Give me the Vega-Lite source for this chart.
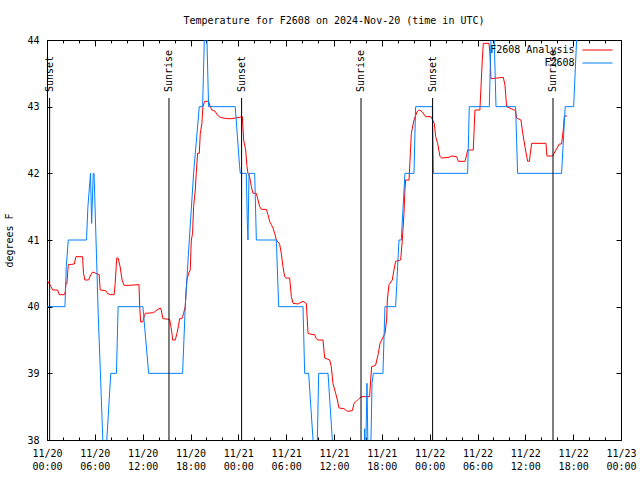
{
  "$schema": "https://vega.github.io/schema/vega-lite/v6.json",
  "width": 574,
  "height": 400,
  "autosize": {"type": "none"},
  "padding": {"left": 47, "top": 40, "right": 19, "bottom": 40},
  "background": "white",
  "title": {"text": "Temperature for F2608 on 2024-Nov-20 (time in UTC)", "font": "DejaVu Sans Mono", "fontSize": 10, "fontWeight": "normal", "color": "black", "anchor": "middle", "baseline": "bottom", "offset": -1},
  "datasets": {
    "temps": [
      {"series": "F2608 Analysis", "hour": 0, "temp": 40.4},
      {"series": "F2608 Analysis", "hour": 0.5, "temp": 40.3},
      {"series": "F2608 Analysis", "hour": 0.71, "temp": 40.25},
      {"series": "F2608 Analysis", "hour": 1.33, "temp": 40.25},
      {"series": "F2608 Analysis", "hour": 1.54, "temp": 40.18},
      {"series": "F2608 Analysis", "hour": 2.17, "temp": 40.18},
      {"series": "F2608 Analysis", "hour": 2.29, "temp": 40.22},
      {"series": "F2608 Analysis", "hour": 2.38, "temp": 40.35},
      {"series": "F2608 Analysis", "hour": 2.5, "temp": 40.35},
      {"series": "F2608 Analysis", "hour": 2.67, "temp": 40.63},
      {"series": "F2608 Analysis", "hour": 3.42, "temp": 40.64},
      {"series": "F2608 Analysis", "hour": 3.63, "temp": 40.75},
      {"series": "F2608 Analysis", "hour": 4.46, "temp": 40.75},
      {"series": "F2608 Analysis", "hour": 4.58, "temp": 40.5},
      {"series": "F2608 Analysis", "hour": 4.75, "temp": 40.4},
      {"series": "F2608 Analysis", "hour": 5.21, "temp": 40.4},
      {"series": "F2608 Analysis", "hour": 5.5, "temp": 40.48},
      {"series": "F2608 Analysis", "hour": 5.71, "temp": 40.52},
      {"series": "F2608 Analysis", "hour": 6.13, "temp": 40.5},
      {"series": "F2608 Analysis", "hour": 6.54, "temp": 40.48},
      {"series": "F2608 Analysis", "hour": 6.67, "temp": 40.25},
      {"series": "F2608 Analysis", "hour": 7.38, "temp": 40.24},
      {"series": "F2608 Analysis", "hour": 7.58, "temp": 40.2},
      {"series": "F2608 Analysis", "hour": 7.92, "temp": 40.18},
      {"series": "F2608 Analysis", "hour": 8.42, "temp": 40.18},
      {"series": "F2608 Analysis", "hour": 8.54, "temp": 40.33},
      {"series": "F2608 Analysis", "hour": 8.75, "temp": 40.73},
      {"series": "F2608 Analysis", "hour": 8.92, "temp": 40.73},
      {"series": "F2608 Analysis", "hour": 9.17, "temp": 40.6},
      {"series": "F2608 Analysis", "hour": 9.42, "temp": 40.4},
      {"series": "F2608 Analysis", "hour": 9.67, "temp": 40.32},
      {"series": "F2608 Analysis", "hour": 10.29, "temp": 40.32},
      {"series": "F2608 Analysis", "hour": 11.54, "temp": 40.33},
      {"series": "F2608 Analysis", "hour": 11.63, "temp": 40.0},
      {"series": "F2608 Analysis", "hour": 11.75, "temp": 39.77},
      {"series": "F2608 Analysis", "hour": 12.0, "temp": 39.77},
      {"series": "F2608 Analysis", "hour": 12.2, "temp": 39.85},
      {"series": "F2608 Analysis", "hour": 12.33, "temp": 39.9},
      {"series": "F2608 Analysis", "hour": 13.37, "temp": 39.91},
      {"series": "F2608 Analysis", "hour": 13.79, "temp": 39.95},
      {"series": "F2608 Analysis", "hour": 14.21, "temp": 39.98},
      {"series": "F2608 Analysis", "hour": 14.33, "temp": 39.95},
      {"series": "F2608 Analysis", "hour": 14.54, "temp": 39.82},
      {"series": "F2608 Analysis", "hour": 15.38, "temp": 39.81},
      {"series": "F2608 Analysis", "hour": 15.55, "temp": 39.7},
      {"series": "F2608 Analysis", "hour": 15.67, "temp": 39.6},
      {"series": "F2608 Analysis", "hour": 15.76, "temp": 39.5},
      {"series": "F2608 Analysis", "hour": 16.09, "temp": 39.5},
      {"series": "F2608 Analysis", "hour": 16.3, "temp": 39.6},
      {"series": "F2608 Analysis", "hour": 16.51, "temp": 39.72},
      {"series": "F2608 Analysis", "hour": 16.63, "temp": 39.82},
      {"series": "F2608 Analysis", "hour": 16.93, "temp": 39.82},
      {"series": "F2608 Analysis", "hour": 17.13, "temp": 39.9},
      {"series": "F2608 Analysis", "hour": 17.34, "temp": 40.0},
      {"series": "F2608 Analysis", "hour": 17.43, "temp": 40.2},
      {"series": "F2608 Analysis", "hour": 17.55, "temp": 40.4},
      {"series": "F2608 Analysis", "hour": 17.76, "temp": 40.5},
      {"series": "F2608 Analysis", "hour": 17.97, "temp": 40.55},
      {"series": "F2608 Analysis", "hour": 18.1, "temp": 41.0},
      {"series": "F2608 Analysis", "hour": 18.26, "temp": 41.1},
      {"series": "F2608 Analysis", "hour": 18.39, "temp": 41.5},
      {"series": "F2608 Analysis", "hour": 18.6, "temp": 41.75},
      {"series": "F2608 Analysis", "hour": 18.72, "temp": 42.0},
      {"series": "F2608 Analysis", "hour": 18.89, "temp": 42.3},
      {"series": "F2608 Analysis", "hour": 19.1, "temp": 42.3},
      {"series": "F2608 Analysis", "hour": 19.23, "temp": 42.6},
      {"series": "F2608 Analysis", "hour": 19.43, "temp": 42.75},
      {"series": "F2608 Analysis", "hour": 19.56, "temp": 43.0},
      {"series": "F2608 Analysis", "hour": 19.77, "temp": 43.08},
      {"series": "F2608 Analysis", "hour": 20.27, "temp": 43.08},
      {"series": "F2608 Analysis", "hour": 20.48, "temp": 43.0},
      {"series": "F2608 Analysis", "hour": 20.69, "temp": 42.95},
      {"series": "F2608 Analysis", "hour": 21.11, "temp": 42.93},
      {"series": "F2608 Analysis", "hour": 21.32, "temp": 42.88},
      {"series": "F2608 Analysis", "hour": 21.73, "temp": 42.84},
      {"series": "F2608 Analysis", "hour": 22.57, "temp": 42.82},
      {"series": "F2608 Analysis", "hour": 23.2, "temp": 42.82},
      {"series": "F2608 Analysis", "hour": 23.61, "temp": 42.83},
      {"series": "F2608 Analysis", "hour": 24.12, "temp": 42.84},
      {"series": "F2608 Analysis", "hour": 24.38, "temp": 42.85},
      {"series": "F2608 Analysis", "hour": 24.5, "temp": 42.85},
      {"series": "F2608 Analysis", "hour": 24.67, "temp": 42.5},
      {"series": "F2608 Analysis", "hour": 24.92, "temp": 42.35},
      {"series": "F2608 Analysis", "hour": 25.09, "temp": 42.1},
      {"series": "F2608 Analysis", "hour": 25.21, "temp": 42.0},
      {"series": "F2608 Analysis", "hour": 25.42, "temp": 41.95},
      {"series": "F2608 Analysis", "hour": 25.63, "temp": 41.8},
      {"series": "F2608 Analysis", "hour": 25.84, "temp": 41.7},
      {"series": "F2608 Analysis", "hour": 26.26, "temp": 41.7},
      {"series": "F2608 Analysis", "hour": 26.47, "temp": 41.6},
      {"series": "F2608 Analysis", "hour": 26.68, "temp": 41.5},
      {"series": "F2608 Analysis", "hour": 26.89, "temp": 41.46},
      {"series": "F2608 Analysis", "hour": 27.51, "temp": 41.46},
      {"series": "F2608 Analysis", "hour": 27.72, "temp": 41.38},
      {"series": "F2608 Analysis", "hour": 27.93, "temp": 41.28},
      {"series": "F2608 Analysis", "hour": 28.14, "temp": 41.23},
      {"series": "F2608 Analysis", "hour": 28.35, "temp": 41.18},
      {"series": "F2608 Analysis", "hour": 28.56, "temp": 41.1},
      {"series": "F2608 Analysis", "hour": 28.77, "temp": 41.0},
      {"series": "F2608 Analysis", "hour": 29.18, "temp": 40.94},
      {"series": "F2608 Analysis", "hour": 29.39, "temp": 40.8},
      {"series": "F2608 Analysis", "hour": 29.6, "temp": 40.6},
      {"series": "F2608 Analysis", "hour": 29.81, "temp": 40.45},
      {"series": "F2608 Analysis", "hour": 30.02, "temp": 40.43},
      {"series": "F2608 Analysis", "hour": 30.44, "temp": 40.43},
      {"series": "F2608 Analysis", "hour": 30.65, "temp": 40.15},
      {"series": "F2608 Analysis", "hour": 30.86, "temp": 40.05},
      {"series": "F2608 Analysis", "hour": 31.48, "temp": 40.04},
      {"series": "F2608 Analysis", "hour": 32.11, "temp": 40.08},
      {"series": "F2608 Analysis", "hour": 32.53, "temp": 40.05},
      {"series": "F2608 Analysis", "hour": 32.74, "temp": 39.6},
      {"series": "F2608 Analysis", "hour": 32.95, "temp": 39.59},
      {"series": "F2608 Analysis", "hour": 33.57, "temp": 39.58},
      {"series": "F2608 Analysis", "hour": 33.78, "temp": 39.52},
      {"series": "F2608 Analysis", "hour": 33.99, "temp": 39.5},
      {"series": "F2608 Analysis", "hour": 34.62, "temp": 39.5},
      {"series": "F2608 Analysis", "hour": 34.83, "temp": 39.23},
      {"series": "F2608 Analysis", "hour": 35.46, "temp": 39.2},
      {"series": "F2608 Analysis", "hour": 35.66, "temp": 39.1},
      {"series": "F2608 Analysis", "hour": 35.87, "temp": 38.85},
      {"series": "F2608 Analysis", "hour": 36.21, "temp": 38.7},
      {"series": "F2608 Analysis", "hour": 36.42, "temp": 38.6},
      {"series": "F2608 Analysis", "hour": 36.63, "temp": 38.48},
      {"series": "F2608 Analysis", "hour": 37.25, "temp": 38.47},
      {"series": "F2608 Analysis", "hour": 37.67, "temp": 38.43},
      {"series": "F2608 Analysis", "hour": 38.3, "temp": 38.44},
      {"series": "F2608 Analysis", "hour": 38.51, "temp": 38.55},
      {"series": "F2608 Analysis", "hour": 38.8, "temp": 38.58},
      {"series": "F2608 Analysis", "hour": 39.13, "temp": 38.62},
      {"series": "F2608 Analysis", "hour": 39.47, "temp": 38.65},
      {"series": "F2608 Analysis", "hour": 40.47, "temp": 38.65},
      {"series": "F2608 Analysis", "hour": 40.6, "temp": 38.9},
      {"series": "F2608 Analysis", "hour": 40.72, "temp": 39.1},
      {"series": "F2608 Analysis", "hour": 41.22, "temp": 39.12},
      {"series": "F2608 Analysis", "hour": 41.56, "temp": 39.3},
      {"series": "F2608 Analysis", "hour": 41.77, "temp": 39.45},
      {"series": "F2608 Analysis", "hour": 42.4, "temp": 39.6},
      {"series": "F2608 Analysis", "hour": 42.6, "temp": 39.8},
      {"series": "F2608 Analysis", "hour": 42.69, "temp": 40.1},
      {"series": "F2608 Analysis", "hour": 42.9, "temp": 40.33},
      {"series": "F2608 Analysis", "hour": 43.31, "temp": 40.4},
      {"series": "F2608 Analysis", "hour": 43.52, "temp": 40.55},
      {"series": "F2608 Analysis", "hour": 43.73, "temp": 40.68},
      {"series": "F2608 Analysis", "hour": 44.36, "temp": 40.7},
      {"series": "F2608 Analysis", "hour": 44.57, "temp": 41.0},
      {"series": "F2608 Analysis", "hour": 44.78, "temp": 41.4},
      {"series": "F2608 Analysis", "hour": 44.9, "temp": 41.75},
      {"series": "F2608 Analysis", "hour": 44.99, "temp": 41.9},
      {"series": "F2608 Analysis", "hour": 45.41, "temp": 41.9},
      {"series": "F2608 Analysis", "hour": 45.7, "temp": 42.6},
      {"series": "F2608 Analysis", "hour": 46.03, "temp": 42.8},
      {"series": "F2608 Analysis", "hour": 46.45, "temp": 42.93},
      {"series": "F2608 Analysis", "hour": 46.74, "temp": 42.95},
      {"series": "F2608 Analysis", "hour": 47.08, "temp": 42.92},
      {"series": "F2608 Analysis", "hour": 47.5, "temp": 42.85},
      {"series": "F2608 Analysis", "hour": 48.16, "temp": 42.85},
      {"series": "F2608 Analysis", "hour": 48.58, "temp": 42.75},
      {"series": "F2608 Analysis", "hour": 48.75, "temp": 42.55},
      {"series": "F2608 Analysis", "hour": 49.0, "temp": 42.45},
      {"series": "F2608 Analysis", "hour": 49.3, "temp": 42.25},
      {"series": "F2608 Analysis", "hour": 49.5, "temp": 42.23},
      {"series": "F2608 Analysis", "hour": 50.42, "temp": 42.24},
      {"series": "F2608 Analysis", "hour": 50.76, "temp": 42.26},
      {"series": "F2608 Analysis", "hour": 51.38, "temp": 42.25},
      {"series": "F2608 Analysis", "hour": 51.6, "temp": 42.18},
      {"series": "F2608 Analysis", "hour": 52.43, "temp": 42.18},
      {"series": "F2608 Analysis", "hour": 52.64, "temp": 42.28},
      {"series": "F2608 Analysis", "hour": 52.76, "temp": 42.35},
      {"series": "F2608 Analysis", "hour": 53.47, "temp": 42.35},
      {"series": "F2608 Analysis", "hour": 53.68, "temp": 42.95},
      {"series": "F2608 Analysis", "hour": 54.3, "temp": 42.95},
      {"series": "F2608 Analysis", "hour": 54.6, "temp": 43.7},
      {"series": "F2608 Analysis", "hour": 54.73, "temp": 43.95},
      {"series": "F2608 Analysis", "hour": 55.44, "temp": 43.95},
      {"series": "F2608 Analysis", "hour": 55.56, "temp": 43.8},
      {"series": "F2608 Analysis", "hour": 55.69, "temp": 43.42},
      {"series": "F2608 Analysis", "hour": 57.24, "temp": 43.44},
      {"series": "F2608 Analysis", "hour": 57.45, "temp": 43.32},
      {"series": "F2608 Analysis", "hour": 57.65, "temp": 43.0},
      {"series": "F2608 Analysis", "hour": 58.78, "temp": 42.94},
      {"series": "F2608 Analysis", "hour": 58.91, "temp": 42.83},
      {"series": "F2608 Analysis", "hour": 59.45, "temp": 42.8},
      {"series": "F2608 Analysis", "hour": 59.62, "temp": 42.65},
      {"series": "F2608 Analysis", "hour": 59.95, "temp": 42.4},
      {"series": "F2608 Analysis", "hour": 60.29, "temp": 42.18},
      {"series": "F2608 Analysis", "hour": 60.5, "temp": 42.18},
      {"series": "F2608 Analysis", "hour": 60.79, "temp": 42.45},
      {"series": "F2608 Analysis", "hour": 62.59, "temp": 42.45},
      {"series": "F2608 Analysis", "hour": 62.71, "temp": 42.26},
      {"series": "F2608 Analysis", "hour": 63.42, "temp": 42.26},
      {"series": "F2608 Analysis", "hour": 63.84, "temp": 42.35},
      {"series": "F2608 Analysis", "hour": 64.26, "temp": 42.44},
      {"series": "F2608 Analysis", "hour": 64.55, "temp": 42.44},
      {"series": "F2608 Analysis", "hour": 64.8, "temp": 42.7},
      {"series": "F2608 Analysis", "hour": 64.89, "temp": 42.86},
      {"series": "F2608 Analysis", "hour": 65.22, "temp": 42.86},
      {"series": "F2608", "hour": 0, "temp": 40},
      {"series": "F2608", "hour": 2.25, "temp": 40},
      {"series": "F2608", "hour": 2.42, "temp": 40.6},
      {"series": "F2608", "hour": 2.67, "temp": 41},
      {"series": "F2608", "hour": 4.96, "temp": 41},
      {"series": "F2608", "hour": 5.13, "temp": 41.5},
      {"series": "F2608", "hour": 5.46, "temp": 42},
      {"series": "F2608", "hour": 5.6, "temp": 41.25},
      {"series": "F2608", "hour": 5.8, "temp": 42},
      {"series": "F2608", "hour": 5.9, "temp": 42},
      {"series": "F2608", "hour": 6.2, "temp": 40.8},
      {"series": "F2608", "hour": 6.42, "temp": 39.9},
      {"series": "F2608", "hour": 6.7, "temp": 39},
      {"series": "F2608", "hour": 7.0, "temp": 38},
      {"series": "F2608", "hour": 7.15, "temp": 37.5},
      {"series": "F2608", "hour": 7.35, "temp": 37.5},
      {"series": "F2608", "hour": 7.5, "temp": 38},
      {"series": "F2608", "hour": 8.0, "temp": 39},
      {"series": "F2608", "hour": 8.71, "temp": 39},
      {"series": "F2608", "hour": 8.92, "temp": 40},
      {"series": "F2608", "hour": 12.03, "temp": 40},
      {"series": "F2608", "hour": 12.75, "temp": 39},
      {"series": "F2608", "hour": 17.01, "temp": 39},
      {"series": "F2608", "hour": 17.34, "temp": 40},
      {"series": "F2608", "hour": 17.85, "temp": 41},
      {"series": "F2608", "hour": 18.39, "temp": 42},
      {"series": "F2608", "hour": 19.1, "temp": 43},
      {"series": "F2608", "hour": 19.52, "temp": 43},
      {"series": "F2608", "hour": 19.73, "temp": 44},
      {"series": "F2608", "hour": 19.85, "temp": 44.4},
      {"series": "F2608", "hour": 19.95, "temp": 44.4},
      {"series": "F2608", "hour": 20.06, "temp": 44},
      {"series": "F2608", "hour": 20.27, "temp": 43},
      {"series": "F2608", "hour": 23.61, "temp": 43},
      {"series": "F2608", "hour": 24.16, "temp": 42.1},
      {"series": "F2608", "hour": 24.25, "temp": 42},
      {"series": "F2608", "hour": 25.0, "temp": 42},
      {"series": "F2608", "hour": 25.13, "temp": 41.25},
      {"series": "F2608", "hour": 25.21, "temp": 41},
      {"series": "F2608", "hour": 25.34, "temp": 42},
      {"series": "F2608", "hour": 26.05, "temp": 42},
      {"series": "F2608", "hour": 26.26, "temp": 41},
      {"series": "F2608", "hour": 28.77, "temp": 41},
      {"series": "F2608", "hour": 29.06, "temp": 40},
      {"series": "F2608", "hour": 32.11, "temp": 40},
      {"series": "F2608", "hour": 32.32, "temp": 39},
      {"series": "F2608", "hour": 32.82, "temp": 39},
      {"series": "F2608", "hour": 33.37, "temp": 38},
      {"series": "F2608", "hour": 33.57, "temp": 37.5},
      {"series": "F2608", "hour": 33.78, "temp": 37.5},
      {"series": "F2608", "hour": 33.91, "temp": 38},
      {"series": "F2608", "hour": 34.08, "temp": 39},
      {"series": "F2608", "hour": 35.25, "temp": 39},
      {"series": "F2608", "hour": 35.79, "temp": 38},
      {"series": "F2608", "hour": 36.08, "temp": 37.5},
      {"series": "F2608", "hour": 39.76, "temp": 37.5},
      {"series": "F2608", "hour": 39.84, "temp": 38.17},
      {"series": "F2608", "hour": 39.93, "temp": 37.5},
      {"series": "F2608", "hour": 40.14, "temp": 38.85},
      {"series": "F2608", "hour": 40.3, "temp": 37.5},
      {"series": "F2608", "hour": 40.56, "temp": 37.5},
      {"series": "F2608", "hour": 40.77, "temp": 38.85},
      {"series": "F2608", "hour": 40.93, "temp": 39},
      {"series": "F2608", "hour": 42.14, "temp": 39},
      {"series": "F2608", "hour": 42.39, "temp": 40},
      {"series": "F2608", "hour": 43.73, "temp": 40},
      {"series": "F2608", "hour": 44.15, "temp": 41},
      {"series": "F2608", "hour": 44.44, "temp": 41},
      {"series": "F2608", "hour": 44.9, "temp": 42},
      {"series": "F2608", "hour": 46.03, "temp": 42},
      {"series": "F2608", "hour": 46.24, "temp": 43},
      {"series": "F2608", "hour": 48.33, "temp": 43},
      {"series": "F2608", "hour": 48.46, "temp": 42},
      {"series": "F2608", "hour": 52.76, "temp": 42},
      {"series": "F2608", "hour": 52.97, "temp": 43},
      {"series": "F2608", "hour": 55.48, "temp": 43},
      {"series": "F2608", "hour": 55.69, "temp": 44},
      {"series": "F2608", "hour": 55.8, "temp": 44.4},
      {"series": "F2608", "hour": 55.95, "temp": 44.4},
      {"series": "F2608", "hour": 56.1, "temp": 44},
      {"series": "F2608", "hour": 56.32, "temp": 43},
      {"series": "F2608", "hour": 58.78, "temp": 43},
      {"series": "F2608", "hour": 59.03, "temp": 42},
      {"series": "F2608", "hour": 64.55, "temp": 42},
      {"series": "F2608", "hour": 65.0, "temp": 43},
      {"series": "F2608", "hour": 66.06, "temp": 43},
      {"series": "F2608", "hour": 66.43, "temp": 44},
      {"series": "F2608", "hour": 66.6, "temp": 44.4}
    ],
    "sun": [
      {"hour": 0.33, "event": "Sunset"},
      {"hour": 15.3, "event": "Sunrise"},
      {"hour": 24.41, "event": "Sunset"},
      {"hour": 39.39, "event": "Sunrise"},
      {"hour": 48.37, "event": "Sunset"},
      {"hour": 63.47, "event": "Sunrise"}
    ]
  },
  "resolve": {"axis": {"x": "independent", "y": "independent"}},
  "layer": [
    {
      "data": {"name": "temps"},
      "mark": {"type": "line", "strokeWidth": 1, "clip": true, "interpolate": "linear"},
      "encoding": {
        "x": {
          "field": "hour", "type": "quantitative",
          "scale": {"domain": [0, 72], "nice": false, "zero": false},
          "axis": {
            "orient": "bottom", "title": null, "grid": false, "domain": false,
            "values": [0,2,4,6,8,10,12,14,16,18,20,22,24,26,28,30,32,34,36,38,40,42,44,46,48,50,52,54,56,58,60,62,64,66,68,70,72],
            "labelExpr": "datum.value % 6 == 0 ? ['11/' + (20 + floor(datum.value / 24)), (datum.value % 24 < 10 ? '0' : '') + (datum.value % 24) + ':00'] : ''",
            "tickSize": {"condition": {"test": "datum.value % 6 == 0", "value": -6}, "value": -3},
            "tickColor": "black",
            "labelPadding": 14, "labelBaseline": "top", "labelLineHeight": 13,
            "labelAngle": 0, "labelFlush": false, "labelOverlap": false,
            "labelFont": "DejaVu Sans Mono", "labelFontSize": 10, "labelColor": "black"
          }
        },
        "y": {
          "field": "temp", "type": "quantitative",
          "scale": {"domain": [38, 44], "nice": false, "zero": false},
          "axis": {
            "orient": "left", "grid": false, "domain": false,
            "values": [38, 39, 40, 41, 42, 43, 44],
            "tickSize": -5, "tickColor": "black",
            "labelPadding": 13, "labelFont": "DejaVu Sans Mono", "labelFontSize": 10, "labelColor": "black",
            "title": "degrees F", "titleFont": "DejaVu Sans Mono", "titleFontSize": 10, "titleFontWeight": "normal", "titleColor": "black",
            "titleAngle": 270, "titleX": -38, "titleY": 200, "titleAlign": "center", "titleBaseline": "middle"
          }
        },
        "color": {
          "field": "series", "type": "nominal",
          "scale": {"domain": ["F2608 Analysis", "F2608"], "range": ["#ff0000", "#0080ff"]},
          "legend": {
            "orient": "none", "legendX": 528, "legendY": 5, "title": null, "padding": 0,
            "symbolType": "M-5,0H5", "symbolSize": 36, "symbolStrokeWidth": 1, "symbolOffset": 17.5,
            "labelAlign": "right", "labelOffset": -28, "labelBaseline": "middle",
            "labelFont": "DejaVu Sans Mono", "labelFontSize": 10, "labelColor": "black",
            "rowPadding": 3
          }
        }
      }
    },
    {
      "data": {"name": "sun"},
      "mark": {"type": "rule", "color": "black", "strokeWidth": 1},
      "encoding": {
        "x": {
          "field": "hour", "type": "quantitative",
          "axis": {
            "orient": "top", "title": null, "grid": false, "domain": false, "labels": false,
            "values": [0,2,4,6,8,10,12,14,16,18,20,22,24,26,28,30,32,34,36,38,40,42,44,46,48,50,52,54,56,58,60,62,64,66,68,70,72],
            "tickSize": {"condition": {"test": "datum.value % 6 == 0", "value": -6}, "value": -3},
            "tickColor": "black"
          }
        },
        "y": {"datum": 38, "type": "quantitative",
          "axis": {"orient": "right", "title": null, "grid": false, "domain": false, "labels": false,
            "values": [38, 39, 40, 41, 42, 43, 44], "tickSize": -5, "tickColor": "black"}},
        "y2": {"datum": 43.13}
      }
    },
    {
      "data": {"name": "sun"},
      "mark": {"type": "text", "angle": 270, "align": "left", "baseline": "middle", "font": "DejaVu Sans Mono", "fontSize": 10, "color": "black"},
      "encoding": {
        "x": {"field": "hour", "type": "quantitative", "axis": null},
        "y": {"datum": 43.22, "type": "quantitative", "axis": null},
        "text": {"field": "event", "type": "nominal"}
      }
    }
  ],
  "config": {
    "font": "DejaVu Sans Mono",
    "view": {"stroke": "black", "strokeWidth": 1},
    "axis": {"grid": false}
  }
}
